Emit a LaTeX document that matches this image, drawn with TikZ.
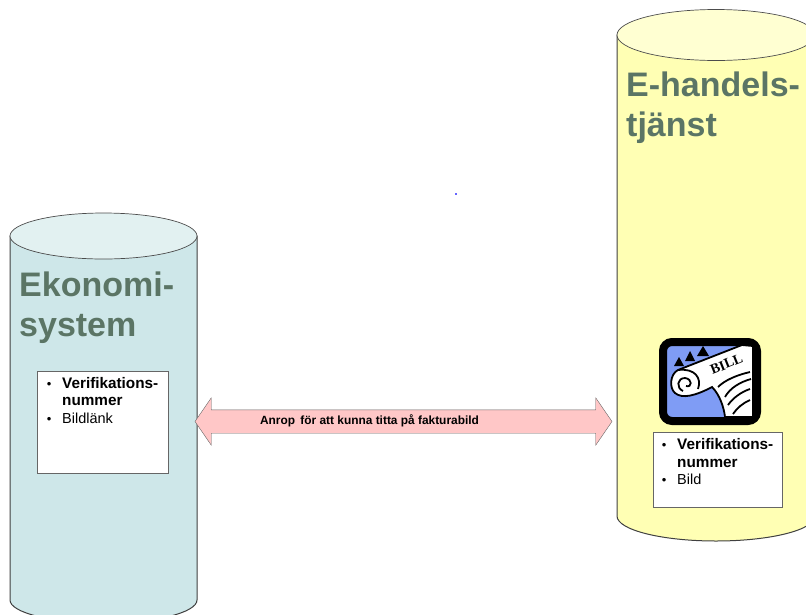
\documentclass[tikz,border=0pt]{standalone}
\usepackage{fontspec}
\setmainfont{Liberation Sans}
\newfontfamily\billfont{Liberation Serif}
\usepackage{xcolor}
\usepackage{tikz}
\usetikzlibrary{shapes.geometric, shapes.arrows, positioning}
\definecolor{titlegreen}{HTML}{5B7565}
\definecolor{billblue}{HTML}{7F9CF5}
\definecolor{ekobody}{HTML}{CEE7E9}
\definecolor{ekotop}{HTML}{E2F1F1}
\definecolor{ehandelbody}{HTML}{FFFFB4}
\definecolor{ehandeltop}{HTML}{FFFFD2}
\tikzset{%
	store/.style={draw=black!75, line width=1pt},
	storetop/.style={draw=black!70, line width=0.7pt},
	title/.style={anchor=north west, align=left, inner sep=0pt, text=titlegreen,%
		font=\fontsize{34}{40}\selectfont\bfseries},
	infobox/.style={draw=black!60, fill=white, rectangle, inner sep=0pt},
	infotext/.style={anchor=north west, align=left, inner sep=0pt, font=\fontsize{14.5}{17.5}\selectfont},
	call/.style={draw=black!60, fill=red!22, double arrow, double arrow head extend=12pt,%
		double arrow tip angle=111, inner xsep=0pt, inner ysep=11.5pt, outer sep=0pt},
	calltext/.style={inner sep=0pt, font=\fontsize{11.9}{12}\selectfont\bfseries},
	billline/.style={line width=1.8pt}
}
\newcommand{\bulletrow}[1]{\makebox[20pt][l]{\makebox[14pt][c]{\fontsize{13}{13}\selectfont\textbullet}}#1}
\newcommand{\verifrow}{\bulletrow{\fontsize{15.3}{17.5}\selectfont\bfseries Verifikations-}\\%
	\hspace*{20pt}{\fontsize{15.3}{17.5}\selectfont\bfseries nummer}}

\begin{document}
\begin{tikzpicture}[x=1pt, y=-1pt]
	\useasboundingbox (0,0) rectangle (806,614);
	\clip (0,0) rectangle (806,614);

	\filldraw[store, fill=ekobody] (10,236) -- (10,600)
		arc[start angle=180, end angle=0, x radius=93.5, y radius=23] -- (197,236) -- cycle;
	\filldraw[storetop, fill=ekotop] (103.5,236) ellipse[x radius=93.5, y radius=23];
	\filldraw[store, fill=ehandelbody] (617,35) -- (617,516)
		arc[start angle=180, end angle=0, x radius=99, y radius=25] -- (815,35) -- cycle;
	\filldraw[storetop, fill=ehandeltop] (716,35) ellipse[x radius=99, y radius=25.5];

	\node[title] (ekotitle) at (19,272) {Ekonomi-\\system};
	\node[title] (ehandeltitle) at (626,72) {E-handels-\\tjänst};

	\node[infobox, minimum width=130.5pt, minimum height=102pt] (ekobox) at (102.5,422) {};
	\node[infotext] (ekotext) at (42,377) {\verifrow\\\bulletrow{Bildlänk}};
	\node[infobox, minimum width=129pt, minimum height=75pt] (ehandelbox) at (717.5,469.5) {};
	\node[infotext] (ehandeltext) at (657,438.5) {\verifrow\\\bulletrow{Bild}};

	\node[call, minimum height=417pt, minimum width=47pt] (anrop) at (403.5,421.5) {};
	\node[calltext] (anroptext) at (369.5,421) {Anrop\, för att kunna titta på fakturabild};

	\fill[blue!60] (455,193) rectangle (457,195);

	% bill icon
	\node[draw=black, line width=8pt, fill=billblue, rectangle, rounded corners=9pt,%
		minimum width=94pt, minimum height=79pt, inner sep=0pt] (billicon) at (710,381.5) {};
	\filldraw[fill=white, billline]
		(753,346) -- (742,345) -- (678,370) .. controls (670,374) and (669,388) .. (675,393)
		.. controls (682,399) and (695,396) .. (712,387) .. controls (720,395) and (724,408) .. (725,417)
		-- (753,417) -- cycle;
	\draw[billline] (678,370) .. controls (695,368) and (702,378) .. (698,389);
	\draw[billline] (683,391) .. controls (676,388) and (677,378) .. (685,378) .. controls (693,379) and (692,388) .. (686,386);
	\fill[black] (674,366) -- (679,357) -- (684,366) -- cycle;
	\fill[black] (685,361) -- (690,351) -- (695,361) -- cycle;
	\fill[black] (697,356) -- (703,346) -- (709,356) -- cycle;
	\node[rotate=22, font=\billfont\fontsize{14}{14}\selectfont\bfseries, inner sep=0pt] (billtext) at (726.5,364) {BILL};
	\draw[billline] (718,387) .. controls (725,380) and (737,375) .. (750,372);
	\draw[billline] (725,397) .. controls (730,388) and (740,382) .. (751,379);
	\draw[billline] (728,405) .. controls (733,398) and (741,392) .. (750,389);
	\draw[billline] (733,414) .. controls (737,408) and (743,403) .. (750,400);
\end{tikzpicture}
\end{document}
